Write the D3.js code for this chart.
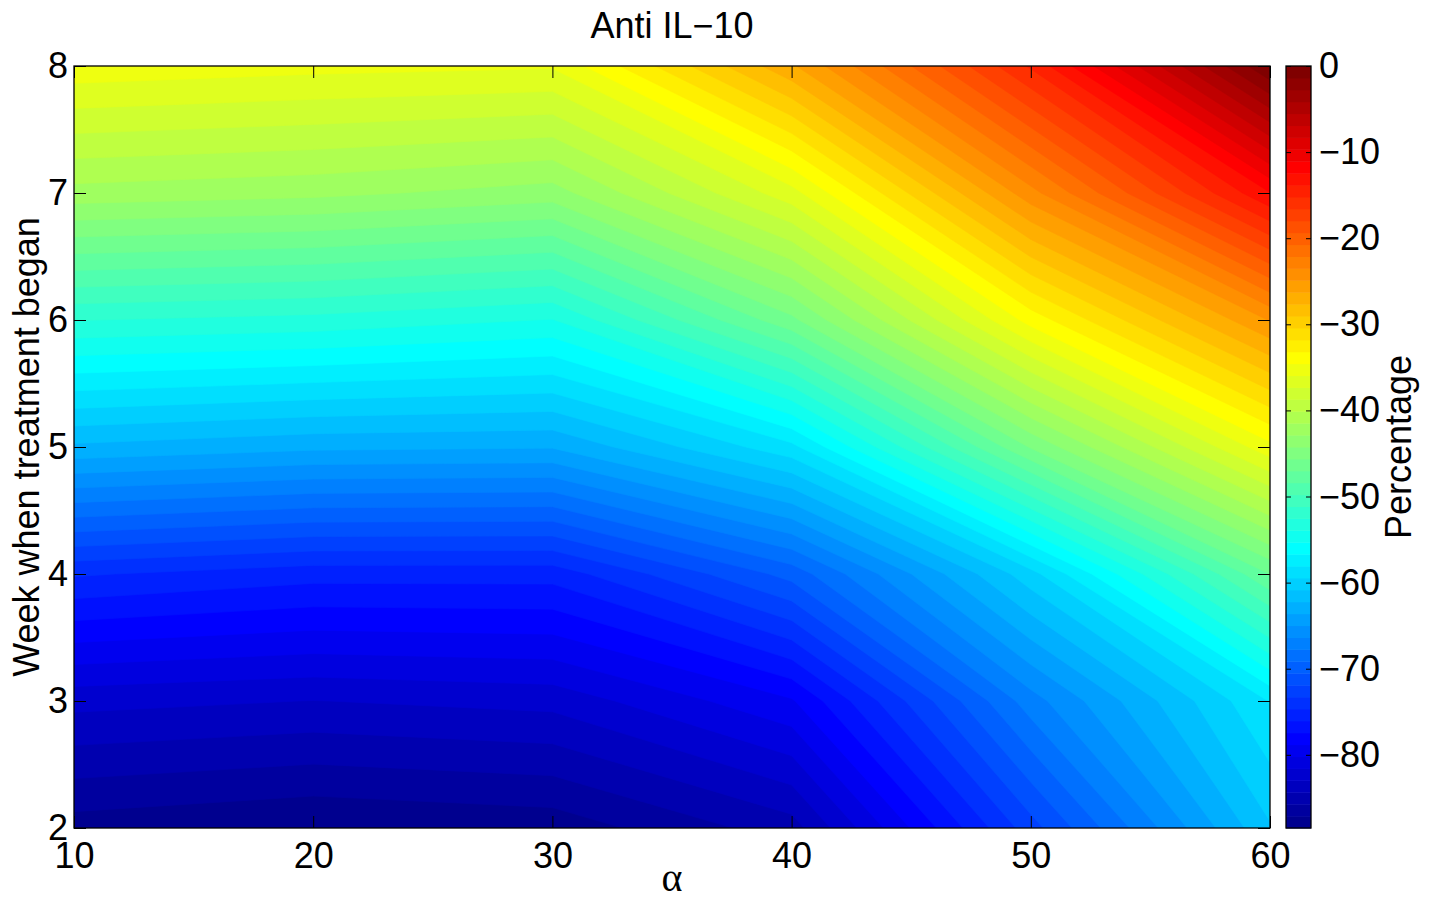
<!DOCTYPE html>
<html>
<head>
<meta charset="utf-8">
<script src="https://cdn.jsdelivr.net/npm/d3@7"></script>
<style>
  body { margin: 0; background: #fff; }
  svg text { font-family: "Liberation Sans", Arial, Helvetica, sans-serif; font-size: 36px; fill: #000; }
</style>
</head>
<body>
<svg id="chart"></svg>
<script>
//grid the model was run on
let alphas = [10, 20, 30, 40, 50, 60];
let weeks = [2, 3, 4, 5, 6, 7, 8];

//percentage change, one row per week (2 at the bottom -> 8 at the top), one column per alpha
let percentRows = [
  [-87.8, -88.5, -88.0, -85.0, -72.5, -61.0],
  [-82.5, -83.0, -82.5, -79.0, -67.0, -58.0],
  [-74.5, -75.5, -75.5, -70.0, -60.0, -47.0],
  [-62.5, -63.3, -63.5, -58.5, -45.5, -35.0],
  [-52.5, -53.0, -54.0, -46.0, -34.0, -24.8],
  [-42.0, -42.5, -43.5, -36.5, -24.0, -12.5],
  [-35.0, -35.5, -35.8, -26.5, -15.0, 0.0]
];

//tick labels
let xTicks = [10, 20, 30, 40, 50, 60];
let yTicks = [2, 3, 4, 5, 6, 7, 8];
let colorTicks = [-80, -70, -60, -50, -40, -30, -20, -10, 0];
let levelCount = 64;

//svg dimensions
let width = 1430;
let height = 901;
let plotLeft = 74;
let plotRight = 1270;
let plotTop = 66;
let plotBottom = 828;
let barLeft = 1286;
let barRight = 1311;
let tickLen = 12;

let svg = d3.select('#chart')
    .attr('width', width)
    .attr('height', height);

//matlab jet colormap, i goes 1..levelCount
let jet = (i) => {
    let m = levelCount / 4;
    let ramp = (k) => {
        if (k < 1 || k > 3 * m - 1) return 0;
        if (k <= m) return k / m;
        if (k < 2 * m) return 1;
        return (3 * m - k) / m;
    };
    let off = Math.ceil(m / 2);
    let r = ramp(i - off - m);
    let g = ramp(i - off);
    let b = ramp(i - off + m);
    return d3.rgb(r * 255, g * 255, b * 255).toString();
};

let xScale = d3.scaleLinear().domain([10, 60]).range([plotLeft, plotRight]);
let yScale = d3.scaleLinear().domain([2, 8]).range([plotBottom, plotTop]);

//flat grid for d3.contours, row by row
let values = percentRows.flat();
let zMin = d3.min(values);
let zMax = d3.max(values);
let step = (zMax - zMin) / levelCount;
let levels = d3.range(levelCount).map(k => zMin + k * step);

//contour coords put sample i at i + 0.5
let gridX = d3.scaleLinear().domain(alphas.map((a, i) => i + 0.5)).range(alphas);
let gridY = d3.scaleLinear().domain(weeks.map((w, i) => i + 0.5)).range(weeks);

let contours = d3.contours()
    .size([alphas.length, weeks.length])
    .thresholds(levels)(values);

let path = d3.geoPath(d3.geoTransform({
    point: function(x, y) {
        this.stream.point(xScale(gridX(x)), yScale(gridY(y)));
    }
}));

svg.append('defs').append('clipPath')
    .attr('id', 'plot-clip')
    .append('rect')
    .attr('x', plotLeft)
    .attr('y', plotTop)
    .attr('width', plotRight - plotLeft)
    .attr('height', plotBottom - plotTop);

svg.append('g')
    .attr('clip-path', 'url(#plot-clip)')
    .selectAll('path')
    .data(contours)
    .enter()
    .append('path')
    .attr('d', path)
    .attr('fill', (d, k) => jet(k + 1))
    .attr('stroke', (d, k) => jet(k + 1))
    .attr('stroke-width', 0.6);

//axes, ticks on all four sides pointing inward
let axisStyle = (g) => {
    g.select('.domain').remove();
    g.attr('color', '#000');
    g.selectAll('.tick line').attr('stroke-width', 1);
};

let intFormat = d3.format('d');

svg.append('g')
    .attr('transform', 'translate(0,' + plotBottom + ')')
    .call(d3.axisBottom(xScale).tickValues(xTicks).tickFormat(intFormat).tickSizeInner(-tickLen).tickSizeOuter(0).tickPadding(14))
    .call(axisStyle);

svg.append('g')
    .attr('transform', 'translate(0,' + plotTop + ')')
    .call(d3.axisTop(xScale).tickValues(xTicks).tickSizeInner(-tickLen).tickSizeOuter(0).tickFormat(''))
    .call(axisStyle);

svg.append('g')
    .attr('transform', 'translate(' + plotLeft + ',0)')
    .call(d3.axisLeft(yScale).tickValues(yTicks).tickFormat(intFormat).tickSizeInner(-tickLen).tickSizeOuter(0).tickPadding(6))
    .call(axisStyle);

svg.append('g')
    .attr('transform', 'translate(' + plotRight + ',0)')
    .call(d3.axisRight(yScale).tickValues(yTicks).tickSizeInner(-tickLen).tickSizeOuter(0).tickFormat(''))
    .call(axisStyle);

svg.append('rect')
    .attr('x', plotLeft)
    .attr('y', plotTop)
    .attr('width', plotRight - plotLeft)
    .attr('height', plotBottom - plotTop)
    .attr('fill', 'none')
    .attr('stroke', '#000')
    .attr('stroke-width', 1.3);

//colorbar
let cScale = d3.scaleLinear().domain([zMin, zMax]).range([plotBottom, plotTop]);

svg.append('g')
    .selectAll('rect')
    .data(levels)
    .enter()
    .append('rect')
    .attr('x', barLeft)
    .attr('width', barRight - barLeft)
    .attr('y', d => cScale(d + step))
    .attr('height', d => cScale(d) - cScale(d + step) + 0.5)
    .attr('fill', (d, k) => jet(k + 1));

svg.append('g')
    .attr('transform', 'translate(' + barRight + ',0)')
    .call(d3.axisRight(cScale).tickValues(colorTicks).tickFormat(d3.format('d')).tickSizeInner(-5).tickSizeOuter(0).tickPadding(8))
    .call(axisStyle);

svg.append('g')
    .attr('transform', 'translate(' + barLeft + ',0)')
    .call(d3.axisLeft(cScale).tickValues(colorTicks).tickSizeInner(-5).tickSizeOuter(0).tickFormat(''))
    .call(axisStyle);

svg.append('rect')
    .attr('x', barLeft)
    .attr('y', plotTop)
    .attr('width', barRight - barLeft)
    .attr('height', plotBottom - plotTop)
    .attr('fill', 'none')
    .attr('stroke', '#000')
    .attr('stroke-width', 1.3);

//labels
svg.append('text')
    .attr('x', (plotLeft + plotRight) / 2)
    .attr('y', 38)
    .attr('text-anchor', 'middle')
    .text('Anti IL\u221210');

svg.append('text')
    .attr('x', (plotLeft + plotRight) / 2)
    .attr('y', 891)
    .attr('text-anchor', 'middle')
    .style('font-family', '"Liberation Serif", "DejaVu Serif", serif')
    .style('font-size', '40px')
    .text('\u03b1');

svg.append('text')
    .attr('transform', 'translate(39,' + (plotTop + plotBottom) / 2 + ') rotate(-90)')
    .attr('text-anchor', 'middle')
    .text('Week when treatment began');

svg.append('text')
    .attr('transform', 'translate(1411,' + (plotTop + plotBottom) / 2 + ') rotate(-90)')
    .attr('text-anchor', 'middle')
    .text('Percentage');
</script>
</body>
</html>
